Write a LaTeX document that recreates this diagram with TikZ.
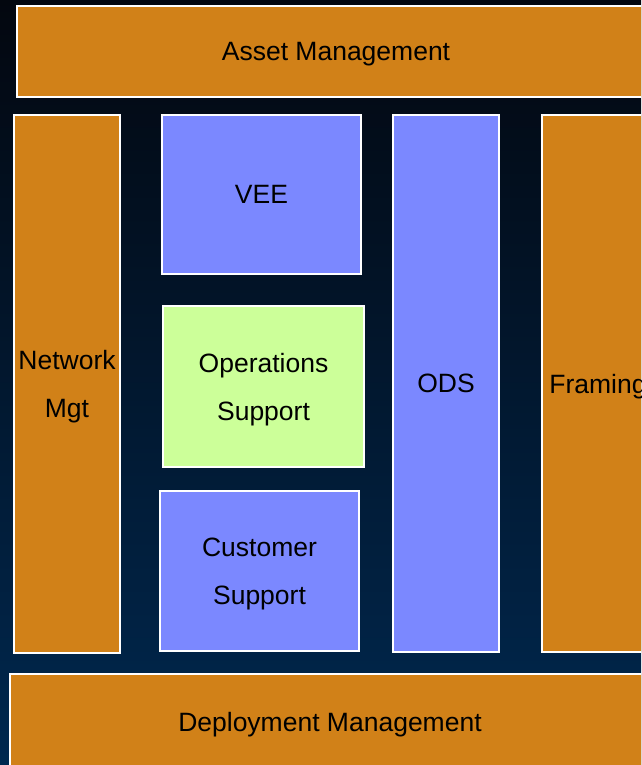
\documentclass[tikz,border=0pt]{standalone}
\usepackage{fontspec}
\setmainfont{Liberation Sans}
\definecolor{bgtop}{HTML}{03070F}
\definecolor{bgbot}{HTML}{00284F}
\definecolor{ochre}{HTML}{D18118}
\definecolor{periwinkle}{HTML}{7B88FF}
\definecolor{lime}{HTML}{CCFF99}
\tikzset{
  block/.style={draw=white, line width=2pt, inner sep=0pt, align=center,
    font=\fontsize{26.5}{48}\selectfont, text=black, text depth=0pt},
  orangeblock/.style={block, fill=ochre},
  blueblock/.style={block, fill=periwinkle},
  greenblock/.style={block, fill=lime},
}
\begin{document}
\begin{tikzpicture}[x=1pt, y=-1pt]
  \useasboundingbox (0,0) rectangle (641,765);
  \clip (0,0) rectangle (641,765);
  \shade[top color=bgtop, bottom color=bgbot] (0,0) rectangle (641,765);

  % top and bottom bands
  \node[orangeblock, minimum width=638pt, minimum height=91pt] (asset) at (336,51.5) {Asset Management};
  \node[orangeblock, minimum width=640pt, minimum height=96pt] (deploy) at (330,722) {Deployment Management};

  % left column
  \node[orangeblock, minimum width=106pt, minimum height=538pt] (netmgt) at (67,384) {Network\\Mgt};

  % middle stack
  \node[blueblock, minimum width=199pt, minimum height=159pt] (vee) at (261.5,194.5) {VEE};
  \node[greenblock, minimum width=201pt, minimum height=161pt] (ops) at (263.5,386.5) {Operations\\Support};
  \node[blueblock, minimum width=199pt, minimum height=160pt] (cust) at (259.5,571) {Customer\\Support};

  % right columns
  \node[blueblock, minimum width=106pt, minimum height=537pt] (ods) at (446,383.5) {ODS};
  \node[orangeblock, minimum width=112pt, minimum height=537pt] (framing) at (598,383.5) {Framing};
\end{tikzpicture}
\end{document}
